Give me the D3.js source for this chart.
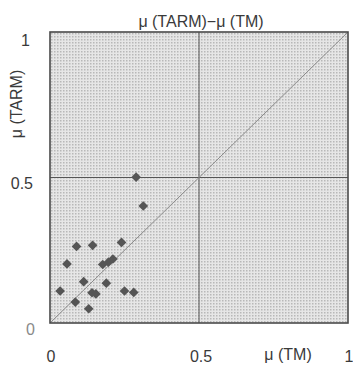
<!DOCTYPE html>
<html><head><meta charset="utf-8">
<script src="https://cdn.jsdelivr.net/npm/d3@7"></script>
<style>body{margin:0;background:#fff}svg{display:block}text{font-family:"Liberation Sans",Arial,sans-serif;fill:#3a3a3a}</style>
</head><body>
<script>
const xValues = [0.089,0.143,0.240,0.057,0.177,0.196,0.211,0.113,0.189,0.034,0.141,0.154,0.250,0.281,0.085,0.130,0.289,0.313];
const yValues = [0.263,0.267,0.277,0.203,0.201,0.209,0.220,0.142,0.137,0.110,0.104,0.100,0.110,0.105,0.072,0.049,0.501,0.402];
const tickValues = [0, 0.5, 1];
const tickLabels = ["0", "0.5", "1"];
const title = "μ (TARM)−μ (TM)";
const xTitle = "μ (TM)";
const yTitle = "μ (TARM)";

const W = 353, H = 370;
const svg = d3.select("body").append("svg").attr("width", W).attr("height", H);
const x = d3.scaleLinear().domain([0,1]).range([50,348]);
const y = d3.scaleLinear().domain([0,1]).range([323,32]);

const defs = svg.append("defs");
const pat = defs.append("pattern").attr("id","ht").attr("width",3).attr("height",3).attr("patternUnits","userSpaceOnUse");
pat.append("rect").attr("width",3).attr("height",3).attr("fill","#e6e6e6");
pat.append("rect").attr("width",1.5).attr("height",1.5).attr("fill","#b8b8b8");

svg.append("rect").attr("x",x(0)).attr("y",y(1)).attr("width",x(1)-x(0)).attr("height",y(0)-y(1)).attr("fill","url(#ht)");

// grid at 0.5
svg.append("line").attr("x1",x(0.5)).attr("x2",x(0.5)).attr("y1",y(0)).attr("y2",y(1)).attr("stroke","#555").attr("stroke-width",1);
svg.append("line").attr("x1",x(0)).attr("x2",x(1)).attr("y1",y(0.5)).attr("y2",y(0.5)).attr("stroke","#555").attr("stroke-width",1);
// diagonal
svg.append("line").attr("x1",x(0)).attr("y1",y(0)).attr("x2",x(1)).attr("y2",y(1)).attr("stroke","#8a8a8a").attr("stroke-width",1);

svg.append("rect").attr("x",x(0)).attr("y",y(1)).attr("width",x(1)-x(0)).attr("height",y(0)-y(1)).attr("fill","none").attr("stroke","#4a4a4a").attr("stroke-width",1.6);

const sym = d3.symbol().type(d3.symbolDiamond2).size(60);
svg.append("g").selectAll("path").data(xValues).join("path")
  .attr("d", sym)
  .attr("transform",(d,i)=>`translate(${x(d)},${y(yValues[i])})`)
  .attr("fill","#555");

// y tick labels
svg.append("g").selectAll("text").data(tickValues).join("text")
  .attr("x",(d,i)=>i===0?35:(i===1?33:30))
  .attr("y",(d,i)=>y(d)+(i===0?12:(i===1?11:14)))
  .attr("text-anchor","end").attr("font-size",16)
  .style("fill",(d,i)=>i===0?"#8a8a8a":"#3a3a3a")
  .text((d,i)=>tickLabels[i]);
// x tick labels
svg.append("g").selectAll("text").data(tickValues).join("text")
  .attr("x",(d,i)=>x(d)+(i===1?2:1))
  .attr("y",362)
  .attr("text-anchor","middle").attr("font-size",16)
  .text((d,i)=>tickLabels[i]);

svg.append("text").attr("x",288).attr("y",360).attr("text-anchor","middle").attr("font-size",16).text(xTitle);
svg.append("text").attr("x",201).attr("y",27).attr("text-anchor","middle").attr("font-size",16).text(title);
svg.append("text").attr("transform","translate(22,104) rotate(-90)").attr("text-anchor","middle").attr("font-size",16).text(yTitle);
</script>
</body></html>
